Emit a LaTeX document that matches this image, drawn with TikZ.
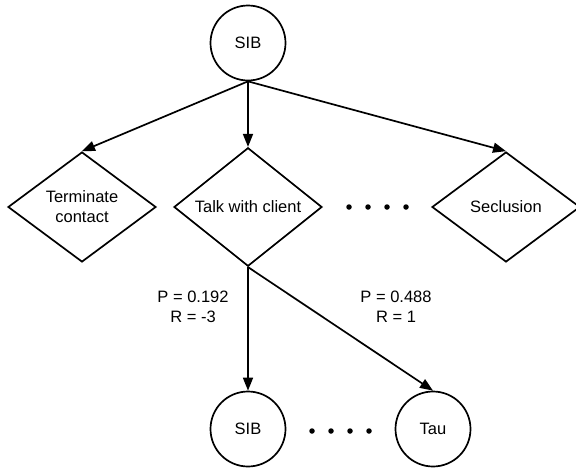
\documentclass[tikz,border=0pt]{standalone}
\usepackage{fontspec}
\setmainfont{Liberation Sans}
\usetikzlibrary{shapes.geometric,arrows.meta}
\begin{document}
\begin{tikzpicture}[x=1pt,y=-1pt,
  every node/.style={font=\fontsize{16.5}{20}\selectfont},
  statenode/.style={draw,circle,line width=1.7pt,minimum size=75pt,inner sep=0pt},
  choicenode/.style={draw,diamond,line width=1.7pt,minimum width=148pt,minimum height=110pt,inner sep=0pt,align=center},
  dotnode/.style={fill,circle,inner sep=0pt,minimum size=5.5pt},
  conn/.style={line width=1.7pt,-{Triangle[length=13pt,width=10pt]}},
  lbl/.style={align=center}]
\useasboundingbox (0,0) rectangle (576,469);
\node[statenode] (top) at (248,43) {SIB};
\node[choicenode] (term) at (82,207) {Terminate\\contact};
\node[choicenode] (talk) at (248,207) {Talk with client};
\node[choicenode] (secl) at (506,207) {Seclusion};
\node[statenode] (sib) at (248,429) {SIB};
\node[statenode] (tau) at (433,429) {Tau};
\foreach \i/\x in {1/349,2/368,3/387,4/406}
  \node[dotnode] (d\i) at (\x,207) {};
\foreach \i/\x in {1/312,2/331,3/350,4/369}
  \node[dotnode] (e\i) at (\x,431) {};
\draw[conn] (top.south) -- (term.north);
\draw[conn] (top.south) -- (talk.north);
\draw[conn] (top.south) -- (secl.north);
\draw[conn] (talk.south) -- (sib.north);
\draw[conn] (talk.south) -- (tau.north);
\node[lbl] (l1) at (193,307) {P = 0.192\\R = -3};
\node[lbl] (l2) at (396,307) {P = 0.488\\R = 1};
\end{tikzpicture}
\end{document}
